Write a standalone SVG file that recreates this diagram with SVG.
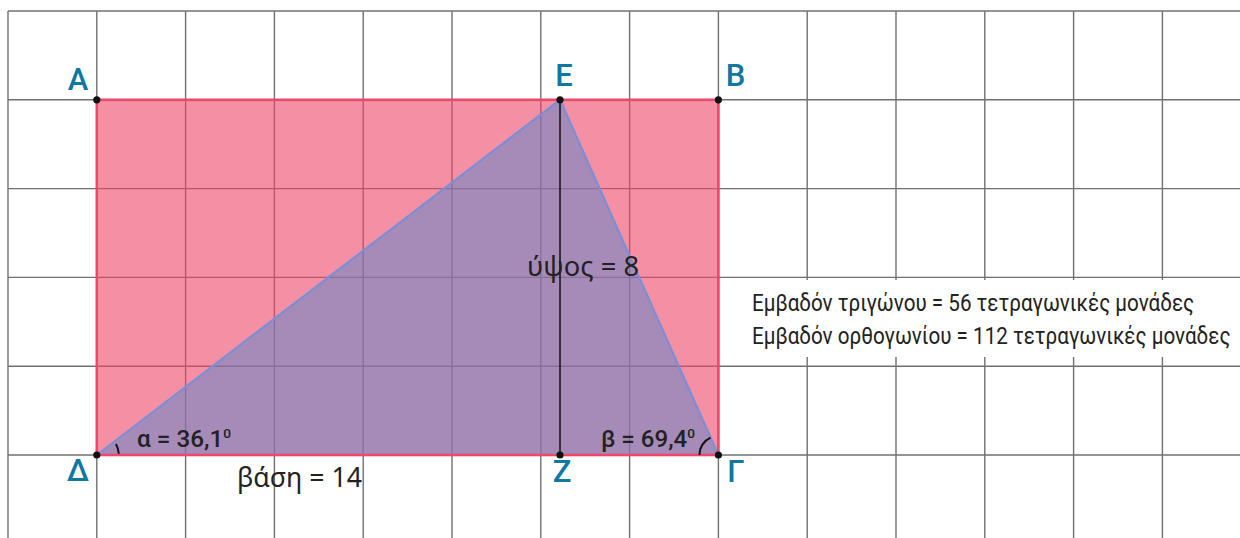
<svg xmlns="http://www.w3.org/2000/svg" width="1240" height="538" viewBox="0 0 1240 538">
<style>
.grid line{stroke:#707070;stroke-width:1.4}
.lbl{font-family:Roboto,"Liberation Sans",sans-serif;font-weight:500;font-size:31px;fill:#0E78A2}
.ang{font-family:Roboto,"Liberation Sans",sans-serif;font-weight:500;font-size:23px;fill:#222}
.sup{font-size:13px}
.big{font-family:"Noto Sans","Liberation Sans",sans-serif;font-size:28px;fill:#222}
.info{font-family:Roboto,"Liberation Sans",sans-serif;font-size:24px;fill:#222}
.dot{fill:#111}
</style>
<rect width="1240" height="538" fill="#fff"/>
<g class="grid" id="grid">
<line x1="8" y1="11" x2="8" y2="538"/>
<line x1="96.8" y1="11" x2="96.8" y2="538"/>
<line x1="185.6" y1="11" x2="185.6" y2="538"/>
<line x1="274.4" y1="11" x2="274.4" y2="538"/>
<line x1="363.2" y1="11" x2="363.2" y2="538"/>
<line x1="452" y1="11" x2="452" y2="538"/>
<line x1="540.8" y1="11" x2="540.8" y2="538"/>
<line x1="629.6" y1="11" x2="629.6" y2="538"/>
<line x1="718.4" y1="11" x2="718.4" y2="538"/>
<line x1="807.2" y1="11" x2="807.2" y2="538"/>
<line x1="896" y1="11" x2="896" y2="538"/>
<line x1="984.8" y1="11" x2="984.8" y2="538"/>
<line x1="1073.6" y1="11" x2="1073.6" y2="538"/>
<line x1="1162.4" y1="11" x2="1162.4" y2="538"/>
<line x1="8" y1="11" x2="1240" y2="11"/>
<line x1="8" y1="99.8" x2="1240" y2="99.8"/>
<line x1="8" y1="188.6" x2="1240" y2="188.6"/>
<line x1="8" y1="277.4" x2="1240" y2="277.4"/>
<line x1="8" y1="366.2" x2="1240" y2="366.2"/>
<line x1="8" y1="455" x2="1240" y2="455"/>
</g>
<g id="rectangle">
<rect x="96.8" y="99.8" width="621.6" height="355.2" fill="#EE4466" fill-opacity="0.6"/>
</g>
<g id="triangle">
<polygon points="96.8,455 560,99.8 718.4,455" fill="#5887CE" fill-opacity="0.5" stroke="#7A8FD6" stroke-width="2.2" stroke-linejoin="round"/>
</g>
<g id="rectangle-outline">
<rect x="96.8" y="99.8" width="621.6" height="355.2" fill="none" stroke="#E94A6B" stroke-width="2.6"/>
</g>
<g id="connectors">
<line x1="560" y1="99.8" x2="560" y2="455" stroke="#111" stroke-width="1.5"/>
<path d="M118.8,453.8 A22,22 0 0 0 115.9,444" fill="none" stroke="#111" stroke-width="2"/>
<path d="M699.4,455 A19,19 0 0 1 710.5,437.6" fill="none" stroke="#111" stroke-width="2"/>
</g>
<g id="points">
<circle class="dot" cx="96.8" cy="99.8" r="3.6"/>
<circle class="dot" cx="560" cy="99.8" r="3.6"/>
<circle class="dot" cx="718.4" cy="99.8" r="3.6"/>
<circle class="dot" cx="96.8" cy="455" r="3.6"/>
<circle class="dot" cx="560" cy="455" r="3.6"/>
<circle class="dot" cx="718.4" cy="455" r="3.6"/>
</g>
<g id="labels">
<text class="lbl" x="78" y="90" text-anchor="middle">A</text>
<text class="lbl" x="564" y="86" text-anchor="middle">E</text>
<text class="lbl" x="735.5" y="86" text-anchor="middle">B</text>
<text class="lbl" x="78" y="481" text-anchor="middle">Δ</text>
<text class="lbl" x="562" y="482" text-anchor="middle">Z</text>
<text class="lbl" x="736" y="482" text-anchor="middle">Γ</text>
</g>
<g id="angle-labels">
<text class="ang" x="137" y="447" textLength="94" lengthAdjust="spacingAndGlyphs">α = 36,1<tspan class="sup" dy="-9">0</tspan></text>
<text class="ang" x="601" y="447" textLength="94" lengthAdjust="spacingAndGlyphs">β = 69,4<tspan class="sup" dy="-9">0</tspan></text>
</g>
<g id="measures">
<text class="big" x="237" y="487" textLength="125" lengthAdjust="spacingAndGlyphs">βάση = 14</text>
<text class="big" x="527" y="276" textLength="112" lengthAdjust="spacingAndGlyphs">ύψος = 8</text>
</g>
<g id="areas">
<rect x="721" y="280" width="519" height="77" fill="#fff"/>
<g transform="translate(752,0) scale(0.86,1)">
<text class="info" x="0" y="311">Εμβαδόν τριγώνου = 56 τετραγωνικές μονάδες</text>
<text class="info" x="0" y="344">Εμβαδόν ορθογωνίου = 112 τετραγωνικές μονάδες</text>
</g>
</g>
</svg>
